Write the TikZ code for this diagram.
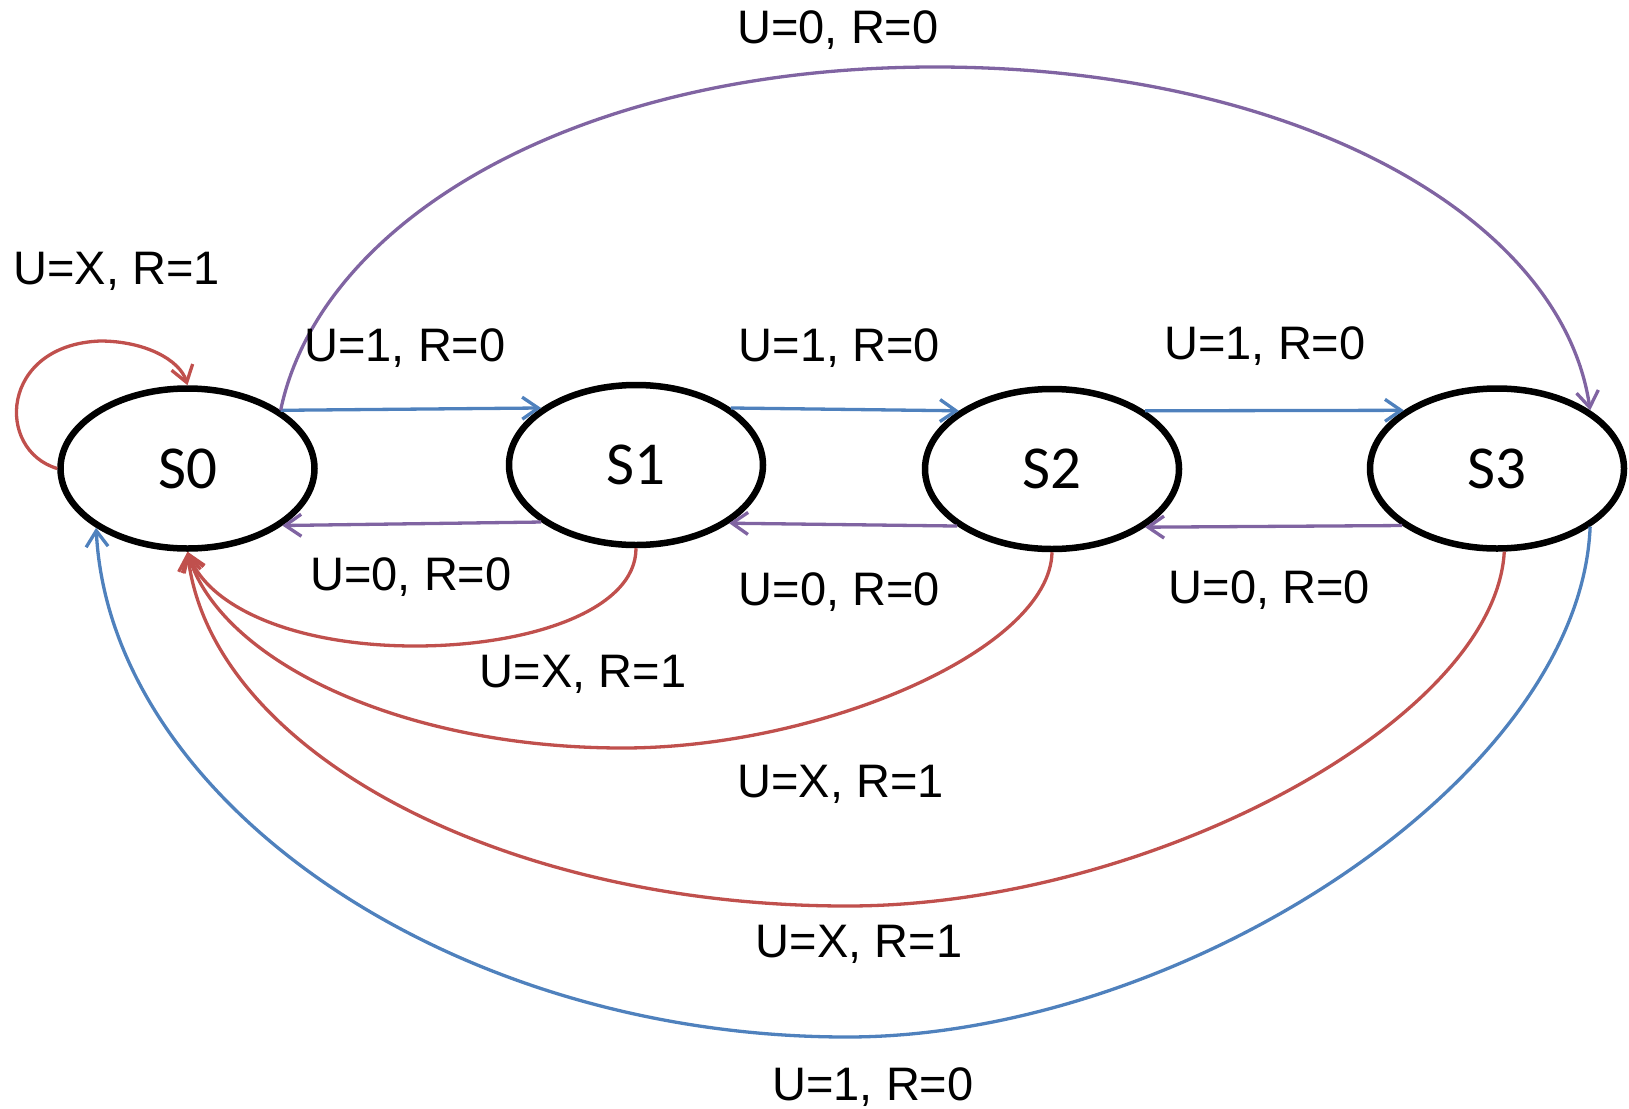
\documentclass[tikz,border=0pt]{standalone}
\usepackage{fontspec}
\newfontfamily\labelfont{Liberation Sans}
\newfontfamily\statefont{Carlito}
\usetikzlibrary{arrows.meta,shapes.geometric}
\definecolor{edgeblue}{HTML}{4F81BD}
\definecolor{edgered}{HTML}{C0504D}
\definecolor{edgepurple}{HTML}{8064A2}
\begin{document}
\begin{tikzpicture}[x=1pt,y=-1pt,
  state/.style={ellipse, draw=black, line width=6.5pt, minimum width=254pt,
    minimum height=160pt, inner sep=0pt,
    font=\statefont\fontsize{61}{72}\selectfont},
  lbl/.style={anchor=base, inner sep=0pt,
    font=\labelfont\fontsize{47}{56}\selectfont},
  edge/.style={line width=3.3pt, -{Straight Barb[length=16pt,width=22pt]}},
  blueedge/.style={edge, draw=edgeblue},
  rededge/.style={edge, draw=edgered},
  purpleedge/.style={edge, draw=edgepurple}]
\useasboundingbox (0,0) rectangle (1629,1108);

% states
\node[state] (S0) at (187.5,468.5) {S0};
\node[state] (S1) at (636,465) {S1};
\node[state] (S2) at (1052,469) {S2};
\node[state] (S3) at (1497,468.5) {S3};

% forward transitions U=1, R=0
\draw[blueedge] (S0.32) -- (S1.149);
\draw[blueedge] (S1.31.6) -- (S2.148.2);
\draw[blueedge] (S2.32.3) -- (S3.148.3);

% backward transitions U=0, R=0
\draw[purpleedge] (S1.211.5) -- (S0.329.6);
\draw[purpleedge] (S2.211.3) -- (S1.328.2);
\draw[purpleedge] (S3.211.7) -- (S2.328.4);

% S0 to S3 over the top
\draw[purpleedge] (S0.32) .. controls (320,221) and (575,67) .. (935,67)
  .. controls (1296,67) and (1562,217) .. (S3.32.2);

% S3 back to S0 along the bottom
\draw[blueedge] (S3.328.3) .. controls (1580,780) and (1180,1037) .. (847,1037)
  .. controls (450,1037) and (110,800) .. (S0.213.9);

% reset transitions U=X, R=1
\draw[rededge] (S0.180) .. controls (-5,450) and (0,345) .. (100,341)
  .. controls (145,341) and (180,360) .. (S0.90);
\draw[rededge] (S1.270) .. controls (636,610) and (530,646) .. (415,646)
  .. controls (300,646) and (210,610) .. (S0.270);
\draw[rededge] (S2.270) .. controls (1050,650) and (820,748) .. (623,748)
  .. controls (400,748) and (220,660) .. (S0.270);
\draw[rededge] (S3.275) .. controls (1495,720) and (1150,906) .. (847,906)
  .. controls (500,906) and (210,750) .. (S0.270);

% transition labels
\node[lbl] (ltop) at (838,44) {U=0, R=0};
\node[lbl] (lloop) at (116.5,284) {U=X, R=1};
\node[lbl] (l01) at (405,361) {U=1, R=0};
\node[lbl] (l12) at (839.5,361) {U=1, R=0};
\node[lbl] (l23) at (1265,359) {U=1, R=0};
\node[lbl] (l10) at (411,590) {U=0, R=0};
\node[lbl] (l21) at (839.5,605) {U=0, R=0};
\node[lbl] (l32) at (1269.5,603) {U=0, R=0};
\node[lbl] (r1) at (583,687) {U=X, R=1};
\node[lbl] (r2) at (840.5,797) {U=X, R=1};
\node[lbl] (r3) at (859,957) {U=X, R=1};
\node[lbl] (lbot) at (873,1100) {U=1, R=0};
\end{tikzpicture}
\end{document}
